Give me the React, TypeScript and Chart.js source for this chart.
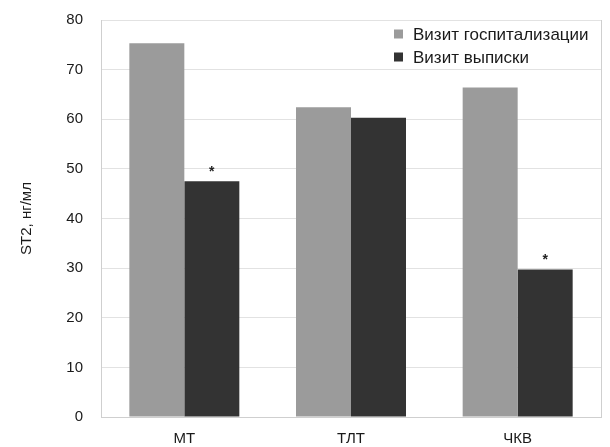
import React, { useEffect, useRef } from "react";
import { Chart, registerables } from "chart.js";

Chart.register(...registerables);

const categories = ["МТ", "ТЛТ", "ЧКВ"];
const admissionValues = [75.3, 62.4, 66.4];
const dischargeValues = [47.5, 60.3, 29.7];
const significance = ["*", "", "*"];
const seriesNames = ["Визит госпитализации", "Визит выписки"];
const seriesColors = ["#9b9b9b", "#333333"];
const yTitle = "ST2, нг/мл";
const yMin = 0;
const yMax = 80;
const yStep = 10;

const FONT = "'Liberation Sans', Arial, Helvetica, sans-serif";

const extrasPlugin = {
  id: "extras",
  afterDatasetsDraw(chart: any) {
    const ctx = chart.ctx;
    const area = chart.chartArea;
    ctx.save();
    // right border
    ctx.strokeStyle = "#cfcfcf";
    ctx.lineWidth = 1;
    ctx.beginPath();
    ctx.moveTo(Math.round(area.right) + 0.5, area.top);
    ctx.lineTo(Math.round(area.right) + 0.5, area.bottom);
    ctx.stroke();

    // significance asterisks above discharge bars
    const meta = chart.getDatasetMeta(1);
    ctx.fillStyle = "#222";
    ctx.font = `bold 14px ${FONT}`;
    ctx.textAlign = "center";
    ctx.textBaseline = "middle";
    significance.forEach((s, i) => {
      if (!s) return;
      const el = meta.data[i];
      ctx.fillText(s, el.x, el.y - 9);
    });

    // legend
    ctx.font = `17px ${FONT}`;
    ctx.textAlign = "left";
    seriesNames.forEach((name, i) => {
      const y = 34 + i * 23;
      ctx.fillStyle = seriesColors[i];
      ctx.fillRect(394, y - 4.5, 9, 9);
      ctx.fillStyle = "#1a1a1a";
      ctx.fillText(name, 413, y + 1);
    });
    ctx.restore();
  },
};

export default function App() {
  const ref = useRef<HTMLCanvasElement | null>(null);

  useEffect(() => {
    document.body.style.margin = "0";
    const canvas = ref.current;
    if (!canvas) return;
    const chart = new Chart(canvas, {
      type: "bar",
      data: {
        labels: categories,
        datasets: [
          {
            label: seriesNames[0],
            data: admissionValues,
            backgroundColor: seriesColors[0],
            categoryPercentage: 0.66,
            barPercentage: 1,
          },
          {
            label: seriesNames[1],
            data: dischargeValues,
            backgroundColor: seriesColors[1],
            categoryPercentage: 0.66,
            barPercentage: 1,
          },
        ],
      },
      options: {
        responsive: false,
        animation: false,
        layout: { padding: { top: 20, right: 9, left: 0, bottom: 0 } },
        plugins: {
          legend: { display: false },
          tooltip: { enabled: false },
        },
        scales: {
          x: {
            grid: { display: false, drawTicks: false },
            border: { display: true, color: "#cfcfcf" },
            ticks: {
              color: "#1a1a1a",
              font: { family: FONT, size: 15 },
              padding: 13,
            },
            afterFit: (scale: any) => {
              scale.height = 30;
              scale.paddingLeft = 0;
              scale.paddingRight = 0;
            },
          },
          y: {
            min: yMin,
            max: yMax,
            ticks: {
              stepSize: yStep,
              color: "#1a1a1a",
              font: { family: FONT, size: 15 },
              padding: 18,
            },
            grid: { color: "#e2e2e2", drawTicks: false },
            border: { display: true, color: "#cfcfcf" },
            title: {
              display: true,
              text: yTitle,
              color: "#1a1a1a",
              font: { family: FONT, size: 15 },
              padding: { top: 18, bottom: 0 },
            },
            afterFit: (scale: any) => {
              scale.width = 101;
              scale.paddingTop = 0;
              scale.paddingBottom = 0;
            },
          },
        },
      },
      plugins: [extrasPlugin],
    });
    return () => chart.destroy();
  }, []);

  return (
    <div style={{ width: 610, height: 447, background: "#fff" }}>
      <canvas ref={ref} width={610} height={447} />
    </div>
  );
}
